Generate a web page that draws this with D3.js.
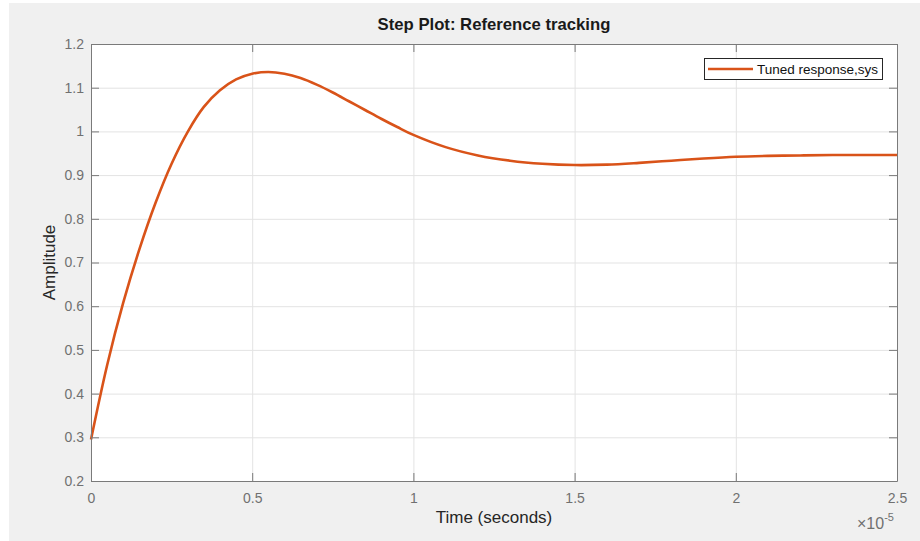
<!DOCTYPE html>
<html>
<head>
<meta charset="utf-8">
<script src="https://cdn.jsdelivr.net/npm/d3@7"></script>
<style>
  body { margin: 0; background: #ffffff; }
  svg { display: block; font-family: "Liberation Sans", Arial, sans-serif; }
</style>
</head>
<body>
<svg id="chart" width="920" height="541"></svg>
<script>
// time in units of 1e-5 s (axis shows the x10^-5 multiplier)
let timeTicks = [ 0, 0.5, 1, 1.5, 2, 2.5 ];
let ampTicks  = [ 0.2, 0.3, 0.4, 0.5, 0.6, 0.7, 0.8, 0.9, 1, 1.1, 1.2 ];

let stepTime = [ 0, 0.05, 0.1, 0.15, 0.2, 0.25, 0.3, 0.35, 0.4, 0.45, 0.5, 0.55, 0.6, 0.65, 0.7, 0.75,
                 0.8, 0.85, 0.9, 0.95, 1.0, 1.1, 1.2, 1.3, 1.4, 1.5, 1.6, 1.7, 1.8, 1.9, 2.0, 2.1, 2.2, 2.3, 2.4, 2.5 ];
let stepAmp  = [ 0.295, 0.465, 0.608, 0.730, 0.836, 0.926, 0.999, 1.056, 1.094, 1.119, 1.132, 1.136, 1.132, 1.122, 1.107, 1.089,
                 1.069, 1.049, 1.029, 1.010, 0.992, 0.964, 0.945, 0.933, 0.926, 0.923, 0.924, 0.928, 0.933, 0.938, 0.942, 0.944, 0.945, 0.946, 0.946, 0.946 ];

let seriesName = "Tuned response,sys";
let lineClr    = "#D95319";
let axisClr    = "#7a7a7a";
let gridClr    = "#e3e3e3";
let tickTxtClr = "#707070";

let svg = d3.select("#chart");

// figure background (screenshot keeps a thin white edge top/left)
svg.append("rect")
	.attr("x", 9).attr("y", 3)
	.attr("width", 911).attr("height", 538)
	.attr("fill", "#f0f0f0");

let pL = 91, pR = 897, pT = 44, pB = 481;
let pW = pR - pL, pH = pB - pT;

let xSc = d3.scaleLinear().domain([0, 2.5]).range([pL, pR]);
let ySc = d3.scaleLinear().domain([0.2, 1.2]).range([pB, pT]);
let fmt = (d)=>{ return String(+d.toFixed(1)); };

svg.append("rect")
	.attr("x", pL).attr("y", pT)
	.attr("width", pW).attr("height", pH)
	.attr("fill", "#ffffff");

// grid
svg.append("g")
	.attr("transform", "translate(0," + pB + ")")
	.call(d3.axisBottom(xSc).tickValues(timeTicks).tickSize(-pH).tickFormat(""))
	.call(g=>{ g.select(".domain").remove(); g.selectAll("line").attr("stroke", gridClr); });

svg.append("g")
	.attr("transform", "translate(" + pL + ",0)")
	.call(d3.axisLeft(ySc).tickValues(ampTicks).tickSize(-pW).tickFormat(""))
	.call(g=>{ g.select(".domain").remove(); g.selectAll("line").attr("stroke", gridClr); });

// step response line
let lineGen = d3.line()
	.x((d)=>{ return xSc(d[0]); })
	.y((d)=>{ return ySc(d[1]); })
	.curve(d3.curveCatmullRom.alpha(0.5));

svg.append("path")
	.datum(stepTime.map((t, i)=>[t, stepAmp[i]]))
	.attr("d", lineGen)
	.attr("fill", "none")
	.attr("stroke", lineClr)
	.attr("stroke-width", 2.6)
	.attr("stroke-linejoin", "round");

// axes: ticks point inward, on all four sides
let tk = 8;
let axB = svg.append("g").attr("transform", "translate(0," + pB + ")")
	.call(d3.axisBottom(xSc).tickValues(timeTicks).tickSizeInner(-tk).tickSizeOuter(0).tickPadding(12).tickFormat(fmt));
let axL = svg.append("g").attr("transform", "translate(" + pL + ",0)")
	.call(d3.axisLeft(ySc).tickValues(ampTicks).tickSizeInner(-tk).tickSizeOuter(0).tickPadding(7).tickFormat(fmt));
let axT = svg.append("g").attr("transform", "translate(0," + pT + ")")
	.call(d3.axisTop(xSc).tickValues(timeTicks).tickSizeInner(-tk).tickSizeOuter(0).tickFormat(""));
let axR = svg.append("g").attr("transform", "translate(" + pR + ",0)")
	.call(d3.axisRight(ySc).tickValues(ampTicks).tickSizeInner(-tk).tickSizeOuter(0).tickFormat(""));

[axB, axL, axT, axR].forEach(g=>{
	g.select(".domain").attr("stroke", axisClr);
	g.selectAll("line").attr("stroke", axisClr);
	g.selectAll("text")
		.attr("fill", tickTxtClr)
		.style("font-size", "14px")
		.style("font-family", "Liberation Sans, Arial, sans-serif");
});

// title and labels
svg.append("text")
	.attr("x", (pL + pR) / 2).attr("y", 30)
	.attr("text-anchor", "middle")
	.style("font-size", "16.7px").style("font-weight", "bold")
	.attr("fill", "#1a1a1a")
	.text("Step Plot: Reference tracking");

svg.append("text")
	.attr("x", (pL + pR) / 2).attr("y", 523)
	.attr("text-anchor", "middle")
	.style("font-size", "17px")
	.attr("fill", "#262626")
	.text("Time (seconds)");

svg.append("text")
	.attr("transform", "translate(55," + ((pT + pB) / 2) + ") rotate(-90)")
	.attr("text-anchor", "middle")
	.style("font-size", "17px")
	.attr("fill", "#262626")
	.text("Amplitude");

// exponent multiplier
let expTxt = svg.append("text")
	.attr("x", 857).attr("y", 529)
	.style("font-size", "16px")
	.attr("fill", tickTxtClr);
expTxt.append("tspan").text("\u00d710");
expTxt.append("tspan").attr("dy", -8).style("font-size", "11px").text("-5");

// legend
let lg = svg.append("g").attr("transform", "translate(704,58)");
lg.append("rect")
	.attr("x", 0.5).attr("y", 0.5)
	.attr("width", 178).attr("height", 21)
	.attr("fill", "#ffffff")
	.attr("stroke", "#262626").attr("stroke-width", 1);
lg.append("line")
	.attr("x1", 4).attr("x2", 49).attr("y1", 11).attr("y2", 11)
	.attr("stroke", lineClr).attr("stroke-width", 2.6);
lg.append("text")
	.attr("x", 53).attr("y", 16)
	.style("font-size", "13.5px")
	.attr("fill", "#111111")
	.text(seriesName);
</script>
</body>
</html>
